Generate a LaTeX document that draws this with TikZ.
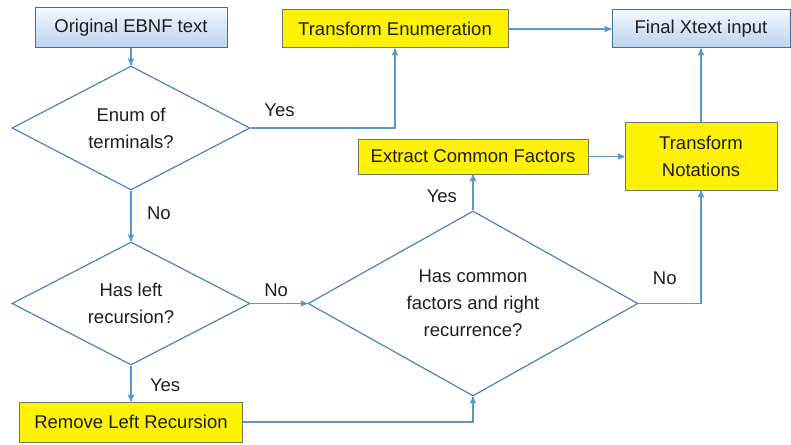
\documentclass[tikz,border=0pt]{standalone}
\usepackage{fontspec}
\setmainfont{Liberation Sans}
\usepackage{tikz}
\usetikzlibrary{arrows,shapes.geometric}

\definecolor{linkblue}{RGB}{91,150,205}
\definecolor{edgeblue}{RGB}{79,129,189}
\definecolor{boxgrey}{RGB}{112,120,104}
\definecolor{topblue}{RGB}{242,247,253}
\definecolor{lowblue}{RGB}{186,211,238}
\definecolor{inkgrey}{RGB}{30,30,30}

\begin{document}
\begin{tikzpicture}[->,>=stealth',x=1pt,y=-1pt,auto,line width=1.4pt,
                    font=\fontsize{18.5}{27}\selectfont,text=inkgrey]
  \tikzstyle{io}=[rectangle,draw=edgeblue!85!black,line width=1pt,
                  top color=topblue,bottom color=lowblue,inner sep=0pt]
  \tikzstyle{work}=[rectangle,draw=boxgrey,line width=1pt,fill=yellow,inner sep=0pt]
  \tikzstyle{test}=[diamond,draw=edgeblue,line width=1.2pt,align=center,inner sep=0pt]
  \tikzstyle{every edge}=[draw=linkblue]

  \useasboundingbox (0,0) rectangle (791,444);

  \node[io,minimum width=192pt,minimum height=40pt] (0) at (131,28) {Original EBNF text};
  \node[test,aspect=1.9,minimum width=238pt,minimum height=124pt]
        (1) [below of=0,node distance=100pt] {Enum of\\terminals?};
  \node[test,aspect=1.9,minimum width=238pt,minimum height=123pt]
        (2) [below of=1,node distance=175.5pt] {Has left\\recursion?};
  \node[work,minimum width=223pt,minimum height=40pt]
        (3) [below of=2,node distance=118.5pt] {Remove Left Recursion};
  \node[test,aspect=1.78,minimum width=330pt,minimum height=185pt]
        (4) [right of=2,node distance=342pt]
        {Has common\\factors and right\\recurrence?};
  \node[work,minimum width=230pt,minimum height=35pt]
        (5) [above of=4,node distance=147pt] {Extract Common Factors};
  \node[work,minimum width=226pt,minimum height=38pt] (8) at (395,29) {Transform Enumeration};
  \node[io,minimum width=178pt,minimum height=38pt]
        (7) [right of=8,node distance=306pt] {Final Xtext input};
  \node[work,minimum width=152pt,minimum height=68pt,align=center]
        (6) [below of=7,node distance=127pt] {Transform\\Notations};

  \path (0) edge (1)
        (1) edge node[pos=0.45,xshift=12pt] {No} (2)
        (2) edge node[pos=0.55,xshift=15pt] {Yes} (3)
        (2) edge node[pos=0.45,yshift=3pt] {No} (4)
        (4) edge node[pos=0.4,xshift=-12pt] {Yes} (5)
        (5.east) edge (5.east -| 6.west)
        (8) edge (7)
        (6) edge (7)
  ; %end path

  \draw[draw=linkblue] (1.east) -| node[pos=0.1,yshift=7pt] {Yes} (8.south);
  \draw[draw=linkblue] (3.east) -| (4.south);
  \draw[draw=linkblue] (4.east) -| node[pos=0.21,yshift=15pt] {No} (6.south);

\end{tikzpicture}
\end{document}
